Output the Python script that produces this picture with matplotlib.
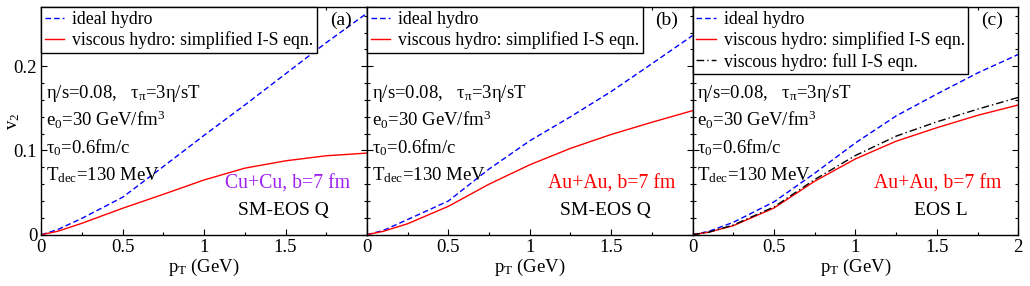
#v2(pT) : ideal vs viscous hydro, three panels
import matplotlib
matplotlib.use("Agg")
import matplotlib.pyplot as plt
from matplotlib.ticker import MultipleLocator

plt.rcParams['font.family'] = ['Liberation Serif', 'DejaVu Serif']
plt.rcParams['mathtext.fontset'] = 'custom'
plt.rcParams['mathtext.rm'] = 'Liberation Serif'
plt.rcParams['mathtext.it'] = 'Liberation Serif:italic'
plt.rcParams['font.size'] = 13.5

#data
pt = [0, 0.1, 0.25, 0.5, 0.75, 1.0, 1.25, 1.5, 1.75, 2.0]

a_ideal = [0, 0.006, 0.0195, 0.0445, 0.081, 0.118, 0.154, 0.191, 0.228, 0.263]
a_visc  = [0, 0.004, 0.0136, 0.0314, 0.048, 0.065, 0.079, 0.0877, 0.0937, 0.0969]

b_ideal = [0, 0.005, 0.018, 0.040, 0.078, 0.1115, 0.140, 0.170, 0.203, 0.2365]
b_visc  = [0, 0.004, 0.013, 0.0337, 0.060, 0.083, 0.1025, 0.119, 0.1335, 0.1473]

c_ideal = [0, 0.004, 0.0147, 0.039, 0.073, 0.109, 0.141, 0.167, 0.192, 0.214]
c_visc  = [0, 0.003, 0.0107, 0.0317, 0.0635, 0.090, 0.111, 0.127, 0.1417, 0.154]
c_full  = [0, 0.003, 0.0115, 0.033, 0.0655, 0.094, 0.117, 0.134, 0.149, 0.163]

panel_labels = ["(a)", "(b)", "(c)"]
system_text  = ["Cu+Cu, b=7 fm", "Au+Au, b=7 fm", "Au+Au, b=7 fm"]
system_color = ["#a020f0", "#ff0000", "#ff0000"]
eos_text     = ["SM-EOS Q", "SM-EOS Q", "EOS L"]

param_lines = [
    "η/s=0.08,   τ$\\mathregular{_π}$=3η/sT",
    "e$\\mathregular{_0}$=30 GeV/fm$\\mathregular{^3}$",
    "τ$\\mathregular{_0}$=0.6fm/c",
    "T$\\mathregular{_{dec}}$=130 MeV",
]

fig, axes = plt.subplots(1, 3, figsize=(10.30, 2.86), dpi=100)
fig.subplots_adjust(left=0.0401, right=0.9886, bottom=0.1794, top=0.9745, wspace=0)

ideal_list = [a_ideal, b_ideal, c_ideal]
visc_list  = [a_visc, b_visc, c_visc]

for i, ax in enumerate(axes):
    ax.plot(pt, ideal_list[i], color="#0000ff", lw=1.0, dashes=(4.0, 2.2), label="ideal hydro")
    ax.plot(pt, visc_list[i], color="#ff0000", lw=1.0, label="viscous hydro: simplified I-S eqn.")
    if i == 2:
        ax.plot(pt, c_full, color="black", lw=1.0, dashes=(5.5, 2.2, 1.0, 2.2),
                label="viscous hydro: full I-S eqn.")

    ax.set_xlim(0, 2)
    ax.set_ylim(0, 0.27)

    #ticks
    if i < 2:
        ax.set_xticks([0, 0.5, 1, 1.5], labels=["0", "0.5", "1", "1.5"])
    else:
        ax.set_xticks([0, 0.5, 1, 1.5, 2], labels=["0", "0.5", "1", "1.5", "2"])
    ax.set_yticks([0, 0.1, 0.2], labels=["0", "0.1", "0.2"])
    ax.xaxis.set_minor_locator(MultipleLocator(0.25))
    ax.yaxis.set_minor_locator(MultipleLocator(0.02))
    ax.tick_params(which="both", direction="in", top=True, right=True, width=0.8)
    ax.tick_params(which="major", length=4.2, pad=3)
    ax.tick_params(which="minor", length=2.4)
    for s in ax.spines.values():
        s.set_linewidth(1.0)

    if i == 0:
        ax.set_ylabel("v$\\mathregular{_2}$")
        ax.yaxis.set_label_coords(-0.058, 0.5)
    else:
        ax.tick_params(axis="y", labelleft=False)

    ax.set_xlabel("p$\\mathregular{_T}$ (GeV)", labelpad=1)

    leg = ax.legend(loc="upper left", borderaxespad=0, fancybox=False, framealpha=1,
                    edgecolor="black", handlelength=1.1, handletextpad=0.45,
                    borderpad=0.2, labelspacing=0.2, fontsize=12.8)
    leg.get_frame().set_linewidth(1.0)

    ax.text(0.92, 0.944, panel_labels[i], transform=ax.transAxes, ha="center", va="center",
            fontsize=14)

    ys = [0.600, 0.478, 0.357, 0.238]
    for y, line in zip(ys, param_lines):
        ax.text(0.015, y, line, transform=ax.transAxes, ha="left", va="baseline")

    ax.text(0.948, 0.203, system_text[i], transform=ax.transAxes, ha="right", va="baseline",
            color=system_color[i], fontsize=14.2)
    ax.text([0.744, 0.733, 0.761][i], 0.085, eos_text[i], transform=ax.transAxes,
            ha="center", va="baseline", fontsize=14)

fig.savefig("out.png", dpi=100)
